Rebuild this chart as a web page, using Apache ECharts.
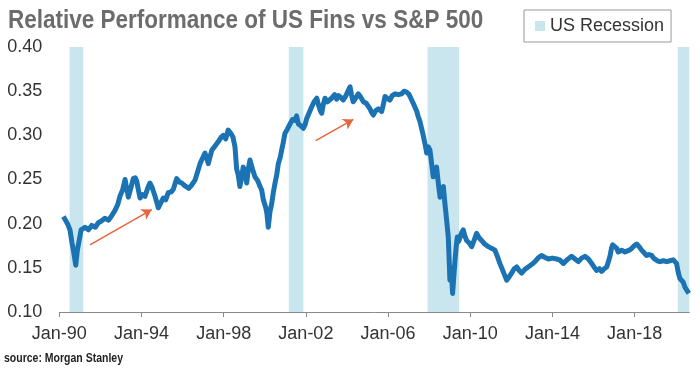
<!DOCTYPE html>
<html>
<head>
<meta charset="utf-8">
<script src="https://cdn.jsdelivr.net/npm/echarts@6/dist/echarts.min.js"></script>
<style>html,body{margin:0;padding:0;background:#fff}#c{width:700px;height:370px}</style>
</head>
<body>
<div id="c"></div>
<script>
// decimal year of each observation
var years = [
1990.20,1990.40,1990.52,1990.62,1990.72,1990.80,1990.88,1991.00,1991.06,1991.25,1991.42,1991.58,1991.75,1991.90,
1992.05,1992.22,1992.40,1992.55,1992.71,1992.85,1992.95,1993.08,1993.20,1993.28,1993.36,1993.50,1993.60,1993.70,
1993.77,1993.85,1993.93,1994.05,1994.17,1994.30,1994.41,1994.50,1994.66,1994.82,1994.95,1995.06,1995.18,1995.30,
1995.45,1995.55,1995.71,1995.85,1995.96,1996.10,1996.30,1996.45,1996.60,1996.72,1996.85,1996.97,1997.09,1997.20,
1997.25,1997.42,1997.58,1997.74,1997.88,1997.98,1998.10,1998.22,1998.35,1998.45,1998.55,1998.63,1998.71,1998.79,
1998.87,1998.95,1999.04,1999.12,1999.20,1999.28,1999.40,1999.52,1999.65,1999.77,1999.85,1999.93,2000.05,2000.10,
2000.17,2000.25,2000.34,2000.42,2000.50,2000.58,2000.66,2000.75,2000.82,2000.90,2000.98,2001.10,2001.23,2001.35,
2001.47,2001.55,2001.63,2001.75,2001.88,2001.96,2002.04,2002.15,2002.28,2002.40,2002.53,2002.62,2002.70,2002.77,
2002.85,2002.93,2003.05,2003.15,2003.25,2003.40,2003.50,2003.58,2003.70,2003.82,2003.95,2004.05,2004.15,2004.22,
2004.30,2004.42,2004.55,2004.65,2004.80,2004.95,2005.12,2005.20,2005.28,2005.40,2005.53,2005.69,2005.78,2005.85,
2005.95,2006.09,2006.20,2006.34,2006.50,2006.66,2006.78,2006.90,2007.00,2007.07,2007.15,2007.23,2007.31,2007.40,
2007.47,2007.55,2007.63,2007.71,2007.80,2007.88,2007.96,2008.04,2008.12,2008.20,2008.28,2008.36,2008.45,2008.53,
2008.61,2008.69,2008.77,2008.85,2008.93,2009.01,2009.07,2009.14,2009.20,2009.26,2009.32,2009.37,2009.44,2009.50,
2009.58,2009.66,2009.74,2009.82,2009.95,2010.07,2010.20,2010.31,2010.43,2010.55,2010.70,2010.88,2011.05,2011.20,
2011.32,2011.44,2011.60,2011.77,2011.90,2012.01,2012.14,2012.26,2012.38,2012.50,2012.65,2012.82,2013.00,2013.15,
2013.30,2013.47,2013.62,2013.80,2014.00,2014.20,2014.35,2014.53,2014.70,2014.93,2015.10,2015.26,2015.42,2015.58,
2015.75,2015.91,2016.05,2016.15,2016.28,2016.39,2016.52,2016.64,2016.72,2016.80,2016.87,2016.93,2017.03,2017.13,
2017.20,2017.28,2017.37,2017.45,2017.53,2017.61,2017.74,2017.86,2017.98,2018.10,2018.22,2018.34,2018.46,2018.58,
2018.70,2018.83,2018.92,2018.99,2019.10,2019.23,2019.40,2019.56,2019.72,2019.88,2019.96,2020.04,2020.12,2020.20,
2020.28,2020.36,2020.45,2020.53,2020.64
];
// relative performance US Financials / S&P 500
var ratio = [
0.208,0.200,0.193,0.178,0.165,0.153,0.170,0.185,0.193,0.196,0.193,0.198,0.196,0.201,
0.203,0.206,0.204,0.209,0.215,0.222,0.231,0.238,0.250,0.240,0.230,0.242,0.251,0.252,
0.248,0.238,0.229,0.233,0.231,0.240,0.246,0.242,0.231,0.218,0.224,0.229,0.227,0.235,
0.236,0.239,0.251,0.247,0.246,0.243,0.240,0.244,0.249,0.258,0.268,0.274,0.280,0.272,
0.268,0.283,0.288,0.293,0.298,0.300,0.296,0.306,0.302,0.298,0.287,0.262,0.255,0.242,
0.252,0.264,0.258,0.246,0.262,0.272,0.262,0.253,0.249,0.242,0.238,0.227,0.218,0.212,
0.196,0.213,0.223,0.236,0.246,0.255,0.268,0.275,0.283,0.292,0.302,0.307,0.313,0.318,
0.317,0.322,0.313,0.311,0.308,0.312,0.319,0.325,0.332,0.338,0.342,0.334,0.328,0.325,
0.335,0.342,0.338,0.340,0.342,0.346,0.341,0.345,0.343,0.340,0.345,0.350,0.355,0.346,
0.338,0.342,0.347,0.344,0.338,0.336,0.330,0.326,0.323,0.328,0.330,0.327,0.336,0.344,
0.342,0.340,0.345,0.347,0.346,0.347,0.350,0.349,0.347,0.344,0.342,0.336,0.334,0.327,
0.321,0.316,0.308,0.300,0.290,0.280,0.287,0.283,0.268,0.253,0.259,0.264,0.245,0.230,
0.238,0.242,0.222,0.204,0.185,0.136,0.150,0.121,0.140,0.159,0.175,0.185,0.180,0.181,
0.190,0.193,0.186,0.181,0.178,0.174,0.182,0.189,0.184,0.181,0.177,0.174,0.172,0.170,
0.163,0.155,0.146,0.136,0.140,0.144,0.149,0.151,0.147,0.144,0.148,0.151,0.154,0.157,
0.161,0.164,0.162,0.160,0.161,0.160,0.159,0.155,0.159,0.163,0.160,0.157,0.161,0.163,
0.160,0.155,0.150,0.147,0.149,0.146,0.149,0.151,0.157,0.163,0.172,0.176,0.174,0.172,
0.168,0.166,0.170,0.172,0.168,0.166,0.170,0.172,0.175,0.177,0.174,0.170,0.167,0.164,
0.165,0.164,0.161,0.159,0.158,0.157,0.158,0.157,0.158,0.159,0.158,0.155,0.145,0.138,
0.137,0.134,0.128,0.125,0.121
];
// US recessions (start, end) in decimal years
var recessions = [[1990.50, 1991.17], [2001.17, 2001.88], [2007.92, 2009.46], [2020.10, 2020.66]];
// x tick labels
var tickYears = [1990, 1994, 1998, 2002, 2006, 2010, 2014, 2018];
var tickLabels = ['Jan-90', 'Jan-94', 'Jan-98', 'Jan-02', 'Jan-06', 'Jan-10', 'Jan-14', 'Jan-18'];
// annotation arrows [[x1, y1], [x2, y2]]
var arrows = [[[1991.49, 0.176], [1994.50, 0.216]], [[2002.48, 0.294], [2004.31, 0.318]]];

var lineData = years.map(function (y, i) { return [y, ratio[i]]; });

var chart = echarts.init(document.getElementById('c'), null, { renderer: 'canvas' });
chart.setOption({
  animation: false,
  backgroundColor: '#fff',
  textStyle: { fontFamily: 'Liberation Sans, Arial, sans-serif' },
  graphic: [{
    type: 'text', x: 8, y: 8.5, scaleX: 0.9,
    style: { text: 'Relative Performance of US Fins vs S&P 500', font: 'bold 25px "Liberation Sans", Arial, sans-serif', fill: '#6c6c6c', verticalAlign: 'top' }
  }, {
    type: 'text', x: 4, y: 352, scaleX: 0.84,
    style: { text: 'source: Morgan Stanley', font: 'bold 12.5px "Liberation Sans", Arial, sans-serif', fill: '#222', verticalAlign: 'top' }
  }],
  legend: {
    data: ['US Recession'],
    left: 524, top: 10,
    padding: [7, 7, 7, 11],
    itemWidth: 10, itemHeight: 10, itemGap: 4,
    borderColor: '#999', borderWidth: 1,
    icon: 'rect',
    textStyle: { fontSize: 18, color: '#333' }
  },
  grid: { left: 59.3, right: 10.7, top: 47, bottom: 58, containLabel: false },
  xAxis: {
    type: 'value', min: 1990, max: 2020.66,
    splitLine: { show: false },
    axisLine: { show: true, lineStyle: { color: '#8a8a8a', width: 1 } },
    axisTick: { show: true, customValues: tickYears, length: 5, inside: false, lineStyle: { color: '#8a8a8a' } },
    axisLabel: {
      customValues: tickYears, margin: 13, fontSize: 18, color: '#333',
      formatter: function (v) { var i = tickYears.indexOf(Math.round(v)); return i >= 0 ? tickLabels[i] : ''; }
    }
  },
  yAxis: {
    type: 'value', min: 0.10, max: 0.40, interval: 0.05,
    splitLine: { show: false },
    axisLine: { show: false }, axisTick: { show: false },
    axisLabel: { margin: 17, fontSize: 18, color: '#333', formatter: function (v) { return v.toFixed(2); } }
  },
  series: [
    {
      name: 'US Recession', type: 'bar', data: [],
      itemStyle: { color: '#c9e6ee' },
      markArea: {
        silent: true,
        itemStyle: { color: '#c9e6ee', opacity: 1 },
        data: recessions.map(function (r) { return [{ xAxis: r[0], yAxis: 0.10 }, { xAxis: r[1], yAxis: 0.40 }]; })
      }
    },
    {
      name: 'Fins', type: 'line', data: lineData,
      showSymbol: false, symbol: 'none',
      lineStyle: { color: '#1b73b3', width: 5, join: 'round' },
      itemStyle: { color: '#1b73b3' },
      z: 3,
      markLine: {
        silent: true,
        symbol: ['none', 'arrow'], symbolSize: [9, 10],
        label: { show: false },
        lineStyle: { color: '#e8643c', width: 1.5, type: 'solid' },
        emphasis: { disabled: true },
        data: arrows.map(function (a) { return [{ coord: a[0] }, { coord: a[1] }]; })
      }
    }
  ]
});
</script>
</body>
</html>
